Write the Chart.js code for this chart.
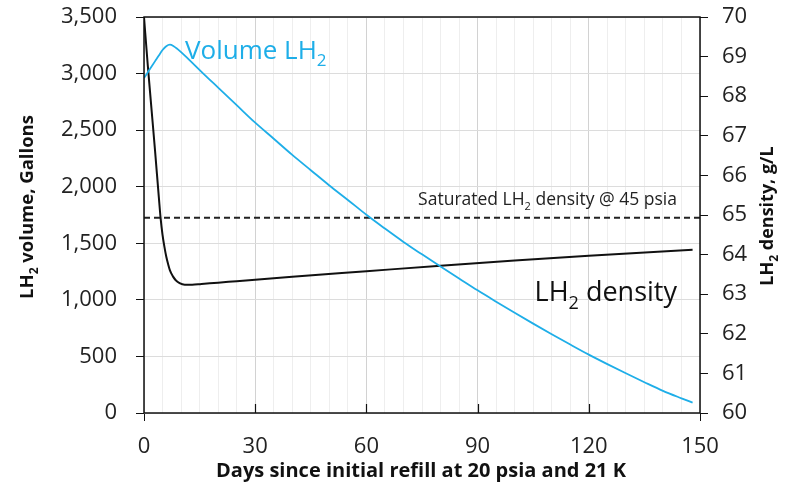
<!DOCTYPE html>
<html>
<head>
<meta charset="utf-8">
<script src="https://cdn.jsdelivr.net/npm/chart.js@4"></script>
<style>
  html, body { margin: 0; padding: 0; background: #fff; }
  #wrap { width: 790px; height: 498px; }
</style>
</head>
<body>
<div id="wrap"><canvas id="lh2Chart" width="790" height="498"></canvas></div>
<script>
// Liquid hydrogen volume (left axis) and density (right axis) after refill
const volumeDays = [0, 1, 2, 3, 4, 5, 6, 7, 8, 9, 10, 12, 16, 20, 25, 30, 35, 40, 45, 50, 55, 60, 65, 70, 75, 80, 85, 90, 95, 100, 105, 110, 115, 120, 125, 130, 135, 140, 145, 148];
const volumeGallons = [2960, 3010, 3060, 3110, 3160, 3208, 3242, 3255, 3242, 3218, 3190, 3128, 3000, 2876, 2721, 2566, 2424, 2281, 2146, 2011, 1883, 1752, 1630, 1512, 1402, 1294, 1189, 1084, 984, 886, 790, 696, 605, 516, 432, 351, 272, 196, 130, 92];

const densityDays = [0, 1, 2, 3, 4, 4.5, 5, 5.5, 6, 6.5, 7, 7.8, 8.5, 9.6, 11, 13, 15.5, 20, 25, 40, 60, 80, 100, 120, 148];
const densityGL = [70, 68.8, 67.7, 66.6, 65.45, 64.9, 64.5, 64.2, 63.95, 63.76, 63.6, 63.45, 63.36, 63.28, 63.24, 63.24, 63.26, 63.29, 63.33, 63.44, 63.58, 63.72, 63.85, 63.97, 64.12];

const saturatedDensity = 64.93;   // g/L at 45 psia
const saturatedSpan = [0, 150];

const dayMajorTicks = [0, 30, 60, 90, 120, 150];

const FONT = '"Open Sans", "Noto Sans", sans-serif';
const BLUE = '#1eaee8';

// text with a subscript "2" (LH2)
function drawRich(ctx, parts, x, y, size, color, align, weight) {
  weight = weight || 'normal';
  const subSize = Math.round(size * 0.65);
  let total = 0;
  parts.forEach(p => {
    ctx.font = weight + ' ' + (p.sub ? subSize : size) + 'px ' + FONT;
    p.w = ctx.measureText(p.t).width;
    total += p.w;
  });
  let cx = x;
  if (align === 'center') cx = x - total / 2;
  if (align === 'right') cx = x - total;
  ctx.fillStyle = color;
  ctx.textAlign = 'left';
  ctx.textBaseline = 'alphabetic';
  parts.forEach(p => {
    ctx.font = weight + ' ' + (p.sub ? subSize : size) + 'px ' + FONT;
    ctx.fillText(p.t, cx, p.sub ? y + size * 0.28 : y);
    cx += p.w;
  });
}

const framePlugin = {
  id: 'frameAndLabels',
  afterDatasetsDraw(chart) {
    const { ctx, chartArea: a, scales } = chart;
    ctx.save();
    // plot frame
    ctx.strokeStyle = '#111';
    ctx.lineWidth = 1.5;
    ctx.strokeRect(a.left, a.top, a.right - a.left, a.bottom - a.top);
    // inward day ticks
    ctx.lineWidth = 1.2;
    dayMajorTicks.slice(1, -1).forEach(d => {
      const px = Math.round(scales.x.getPixelForValue(d)) + 0.5;
      ctx.beginPath();
      ctx.moveTo(px, a.bottom);
      ctx.lineTo(px, a.bottom - 9);
      ctx.stroke();
    });

    // in-plot annotations
    drawRich(ctx, [{ t: 'Volume LH' }, { t: '2', sub: true }], 185, 59, 26, BLUE, 'left');
    drawRich(ctx, [{ t: 'LH' }, { t: '2', sub: true }, { t: ' density' }], 677, 301, 27, '#111', 'right');
    drawRich(ctx, [{ t: 'Saturated LH' }, { t: '2', sub: true }, { t: ' density @ 45 psia' }], 677, 205, 17.5, '#222', 'right');

    // axis titles
    drawRich(ctx, [{ t: 'Days since initial refill at 20 psia and 21 K' }], 421, 477, 20, '#111', 'center', 'bold');
    ctx.save();
    ctx.translate(33, 207);
    ctx.rotate(-Math.PI / 2);
    drawRich(ctx, [{ t: 'LH' }, { t: '2', sub: true }, { t: ' volume, Gallons' }], 0, 0, 18.5, '#111', 'center', 'bold');
    ctx.restore();
    ctx.save();
    ctx.translate(773, 216);
    ctx.rotate(-Math.PI / 2);
    drawRich(ctx, [{ t: 'LH' }, { t: '2', sub: true }, { t: ' density, g/L' }], 0, 0, 18, '#111', 'center', 'bold');
    ctx.restore();
    ctx.restore();
  }
};

// pin the axis boxes so the plot area sits at fixed pixels
function fixVertical(width) {
  return s => {
    s.width = width;
    s.paddingTop = 0;
    s.paddingBottom = 0;
  };
}

const ctx = document.getElementById('lh2Chart').getContext('2d');

new Chart(ctx, {
  type: 'line',
  data: {
    datasets: [
      {
        label: 'Volume LH2',
        data: volumeDays.map((d, i) => ({ x: d, y: volumeGallons[i] })),
        yAxisID: 'y',
        borderColor: BLUE,
        borderWidth: 1.8,
        pointRadius: 0,
        cubicInterpolationMode: 'monotone'
      },
      {
        label: 'LH2 density',
        data: densityDays.map((d, i) => ({ x: d, y: densityGL[i] })),
        yAxisID: 'y2',
        borderColor: '#111',
        borderWidth: 2,
        pointRadius: 0,
        cubicInterpolationMode: 'monotone'
      },
      {
        label: 'Saturated LH2 density @ 45 psia',
        data: saturatedSpan.map(d => ({ x: d, y: saturatedDensity })),
        yAxisID: 'y2',
        borderColor: '#222',
        borderWidth: 1.8,
        borderDash: [6, 4],
        pointRadius: 0
      }
    ]
  },
  options: {
    responsive: false,
    animation: false,
    layout: { padding: { top: 17, left: 0, right: 0, bottom: 0 } },
    plugins: {
      legend: { display: false },
      tooltip: { enabled: false }
    },
    scales: {
      x: {
        type: 'linear',
        min: 0,
        max: 150,
        afterFit: s => {
          s.height = 85;
          s.paddingLeft = 0;
          s.paddingRight = 0;
        },
        ticks: {
          stepSize: 5,
          autoSkip: false,
          maxRotation: 0,
          padding: 13,
          color: '#222',
          font: { family: FONT, size: 22 },
          callback: v => (v % 30 === 0 ? v : '')
        },
        grid: {
          color: c => (c.tick && c.tick.value % 30 === 0 ? '#d2d2d2' : '#eeeeee'),
          tickColor: c => (c.tick && (c.tick.value === 0 || c.tick.value === 150) ? '#111' : 'transparent'),
          tickLength: 8
        },
        border: { display: false }
      },
      y: {
        position: 'left',
        min: 0,
        max: 3500,
        afterFit: fixVertical(144),
        ticks: {
          stepSize: 500,
          padding: 19,
          color: '#222',
          font: { family: FONT, size: 22 },
          callback: v => v.toLocaleString('en-US')
        },
        grid: { color: '#dcdcdc', tickColor: '#111', tickLength: 8 },
        border: { display: false }
      },
      y2: {
        position: 'right',
        min: 60,
        max: 70,
        afterFit: fixVertical(90),
        ticks: {
          stepSize: 1,
          padding: 14,
          color: '#222',
          font: { family: FONT, size: 22 }
        },
        grid: { drawOnChartArea: false, tickColor: '#111', tickLength: 8 },
        border: { display: false }
      }
    }
  },
  plugins: [framePlugin]
});
</script>
</body>
</html>
